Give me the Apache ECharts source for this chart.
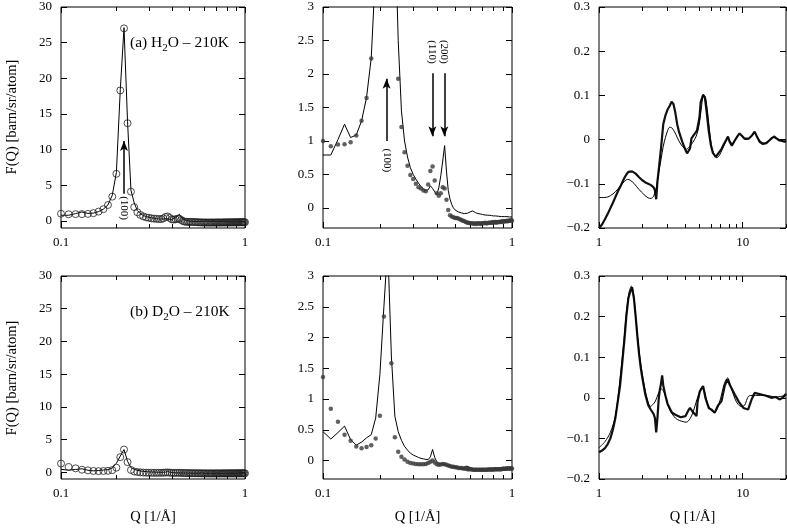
<!DOCTYPE html>
<html><head><meta charset="utf-8">
<script src="https://cdn.jsdelivr.net/npm/echarts@6/dist/echarts.min.js"></script>
<style>html,body{margin:0;padding:0;background:#fff}#c{width:787px;height:529px}</style>
</head><body><div id="c"></div>
<script>
// ---------- data ----------
const qLow = [0.10,0.11,0.12,0.13,0.14,0.15,0.16,0.17,0.18,0.19,
  0.20,0.21,0.22,0.23,0.24,0.25,0.26,0.27,0.28,0.29,
  0.30,0.31,0.32,0.33,0.34,0.35,0.36,0.37,0.38,0.39,
  0.40,0.41,0.42,0.43,0.44,0.45,0.46,0.47,0.48,0.49,
  0.50,0.51,0.52,0.53,0.54,0.55,0.56,0.57,0.58,0.59,
  0.60,0.61,0.62,0.63,0.64,0.65,0.66,0.67,0.68,0.69,
  0.70,0.71,0.72,0.73,0.74,0.75,0.76,0.77,0.78,0.79,
  0.80,0.81,0.82,0.83,0.84,0.85,0.86,0.87,0.88,0.89,
  0.90,0.91,0.92,0.93,0.94,0.95,0.96,0.97,0.98,0.99,1.00];
const h2oData = [1.00,0.92,0.945,0.95,0.98,1.08,1.30,1.64,2.23,3.4,
  6.6,18.3,27.0,13.7,4.1,1.93,1.21,0.83,0.63,0.49,
  0.43,0.36,0.31,0.29,0.26,0.25,0.35,0.55,0.62,0.41,
  0.22,0.18,0.22,0.31,0.29,0.12,-0.03,-0.11,-0.13,-0.14,
  -0.15,-0.15,-0.16,-0.17,-0.18,-0.19,-0.20,-0.21,-0.22,-0.22,
  -0.23,-0.23,-0.23,-0.24,-0.23,-0.24,-0.23,-0.23,-0.24,-0.23,
  -0.23,-0.23,-0.22,-0.23,-0.23,-0.22,-0.22,-0.22,-0.22,-0.21,
  -0.22,-0.21,-0.21,-0.22,-0.21,-0.21,-0.21,-0.21,-0.20,-0.21,
  -0.20,-0.20,-0.20,-0.20,-0.19,-0.20,-0.19,-0.19,-0.19,-0.18,-0.19];
const h2oModel = [0.79,0.79,1.02,1.25,1.05,1.09,1.30,1.65,2.24,3.6,
  6.8,18.4,27.1,13.9,4.3,2.5,1.45,1.0,0.76,0.6,
  0.5,0.43,0.37,0.32,0.28,0.26,0.27,0.33,0.29,0.24,
  0.2,0.3,0.48,0.7,0.93,0.55,0.26,0.13,0.05,0.0,
  -0.03,-0.05,-0.06,-0.07,-0.075,-0.08,-0.085,-0.085,-0.08,-0.07,
  -0.06,-0.05,-0.045,-0.06,-0.07,-0.08,-0.085,-0.09,-0.09,-0.095,
  -0.1,-0.1,-0.105,-0.105,-0.11,-0.11,-0.11,-0.115,-0.115,-0.12,
  -0.12,-0.12,-0.12,-0.125,-0.125,-0.125,-0.125,-0.13,-0.13,-0.13,
  -0.13,-0.13,-0.13,-0.13,-0.13,-0.135,-0.135,-0.135,-0.135,-0.135,-0.135];
const d2oData = [1.36,0.84,0.63,0.42,0.32,0.23,0.20,0.22,0.25,0.36,
  0.73,2.34,3.5,1.58,0.38,0.145,0.06,0.015,-0.02,-0.04,
  -0.05,-0.055,-0.06,-0.06,-0.06,-0.055,-0.04,-0.02,0.0,-0.03,
  -0.06,-0.07,-0.065,-0.055,-0.06,-0.07,-0.08,-0.09,-0.10,-0.10,
  -0.11,-0.11,-0.12,-0.12,-0.12,-0.13,-0.13,-0.13,-0.14,-0.14,
  -0.14,-0.14,-0.15,-0.15,-0.15,-0.15,-0.15,-0.15,-0.15,-0.15,
  -0.15,-0.15,-0.15,-0.15,-0.15,-0.145,-0.145,-0.145,-0.145,-0.145,
  -0.145,-0.14,-0.14,-0.14,-0.14,-0.14,-0.14,-0.14,-0.14,-0.135,
  -0.135,-0.135,-0.135,-0.135,-0.13,-0.13,-0.13,-0.13,-0.13,-0.13,-0.13];
const d2oModel = [0.47,0.35,0.455,0.56,0.34,0.25,0.30,0.37,0.42,0.69,
  1.4,2.5,3.5,1.7,0.72,0.47,0.33,0.23,0.17,0.12,
  0.09,0.07,0.05,0.035,0.026,0.02,0.015,0.06,0.18,0.05,
  -0.02,-0.04,-0.05,-0.06,-0.07,-0.08,-0.085,-0.09,-0.095,-0.10,
  -0.11,-0.115,-0.12,-0.12,-0.125,-0.13,-0.12,-0.09,-0.08,-0.10,
  -0.115,-0.125,-0.13,-0.135,-0.14,-0.14,-0.14,-0.14,-0.14,-0.14,
  -0.14,-0.14,-0.14,-0.14,-0.14,-0.14,-0.14,-0.14,-0.14,-0.14,
  -0.14,-0.14,-0.14,-0.135,-0.135,-0.135,-0.135,-0.135,-0.135,-0.13,
  -0.13,-0.13,-0.13,-0.13,-0.13,-0.13,-0.13,-0.125,-0.125,-0.125,-0.125];

const h2oHiQ = [1.00,1.05,1.10,1.15,1.20,1.25,1.30,1.35,1.40,1.45,1.50,1.55,1.60,1.65,1.70,1.75,1.80,1.90,2.00,2.10,
  2.20,2.30,2.40,2.45,2.50,2.55,2.60,2.70,2.80,2.90,3.00,3.10,3.20,3.25,3.30,3.40,3.50,3.60,3.70,3.80,
  3.90,4.00,4.10,4.20,4.30,4.40,4.60,4.80,5.00,5.10,5.30,5.45,5.60,5.80,6.00,6.20,6.50,6.80,7.10,7.40,
  7.70,7.90,8.10,8.40,8.80,9.20,9.50,9.90,10.3,10.6,11.0,11.5,12.1,12.5,13.1,13.8,14.6,15.3,16.0,16.6,
  17.3,18.0,18.8,19.6,20.0];
const h2oHiS = [-0.200,-0.192,-0.180,-0.168,-0.155,-0.143,-0.130,-0.118,-0.108,-0.097,-0.087,-0.079,-0.073,-0.071,-0.072,-0.074,-0.077,-0.085,-0.092,-0.097,
  -0.100,-0.103,-0.108,-0.115,-0.135,-0.095,-0.070,-0.020,0.035,0.055,0.068,0.076,0.086,0.090,0.080,0.060,0.035,0.018,0.006,-0.005,
  -0.015,-0.024,-0.031,-0.032,-0.020,0.003,0.012,0.020,0.050,0.085,0.101,0.095,0.065,0.020,-0.012,-0.030,-0.039,-0.030,-0.022,-0.010,
  0.000,0.007,-0.005,-0.014,-0.002,0.008,0.014,0.008,0.002,-0.001,0.002,0.008,0.018,0.008,-0.005,-0.010,-0.008,-0.002,0.004,0.007,
  0.002,-0.002,-0.003,-0.005,-0.003];
const h2oHiModelQ = [1.00,1.10,1.20,1.30,1.40,1.50,1.58,1.65,1.75,1.90,2.05,2.20,2.30,2.40,2.50,2.60,2.70,2.80,2.90,3.00,
  3.10,3.20,3.35,3.50,3.70,3.90,4.05,4.25,4.50,4.75,4.95,5.15,5.33,5.50,5.70,5.90,6.10,6.40,6.60,6.90,
  7.20,7.50,7.85,8.20,8.50,8.90,9.30,9.60,10.0,10.5,11.0,11.6,12.1,12.6,13.3,14.2,15.2,16.2,17.2,18.5,20.0];
const h2oHiModelS = [-0.131,-0.131,-0.127,-0.118,-0.106,-0.095,-0.090,-0.092,-0.099,-0.113,-0.124,-0.132,-0.133,-0.128,-0.110,-0.075,-0.045,-0.015,0.005,0.020,
  0.028,0.027,0.018,0.005,-0.010,-0.019,-0.022,-0.016,-0.006,0.008,0.030,0.070,0.102,0.096,0.060,0.015,-0.020,-0.038,-0.041,-0.035,
  -0.022,-0.010,0.004,-0.004,-0.010,0.000,0.009,0.012,0.006,0.000,0.002,0.009,0.015,0.006,-0.004,-0.008,-0.002,0.005,0.002,-0.002,-0.004];
const d2oHiQ = [1.00,1.05,1.10,1.15,1.20,1.25,1.30,1.35,1.40,1.45,1.50,1.55,1.60,1.65,1.70,1.72,1.75,1.80,1.85,1.90,
  1.95,2.00,2.10,2.20,2.30,2.40,2.45,2.50,2.55,2.60,2.65,2.70,2.75,2.80,2.90,3.00,3.20,3.40,3.70,4.00,
  4.20,4.30,4.50,4.77,4.85,5.03,5.30,5.50,5.80,6.06,6.38,6.70,7.12,7.50,7.82,8.10,8.80,9.40,10.1,10.9,
  11.5,12.1,13.5,14.5,15.8,17.0,18.0,19.0,19.8,20.0];
const d2oHiS = [-0.134,-0.130,-0.124,-0.114,-0.100,-0.078,-0.050,-0.010,0.029,0.085,0.140,0.201,0.245,0.262,0.272,0.260,0.245,0.200,0.150,0.108,
  0.075,0.050,0.008,-0.018,-0.030,-0.040,-0.050,-0.085,-0.050,-0.005,0.020,0.035,0.055,0.030,0.005,-0.015,-0.035,-0.042,-0.048,-0.045,
  -0.030,-0.025,-0.035,-0.045,-0.010,0.016,0.029,0.000,-0.025,-0.029,-0.037,-0.020,-0.008,0.030,0.045,0.033,0.008,-0.010,-0.025,-0.029,
  -0.005,0.012,0.008,0.005,0.000,0.002,-0.004,0.000,0.008,0.010];
const d2oHiModelQ = [1.00,1.10,1.20,1.30,1.40,1.50,1.55,1.62,1.68,1.74,1.80,1.92,2.03,2.14,2.28,2.45,2.60,2.71,2.85,3.10,
  3.40,3.64,4.05,4.40,4.70,4.90,5.20,5.40,5.70,6.06,6.40,6.88,7.45,7.85,8.30,8.98,9.70,10.2,11.1,12.3,14.5,17.0,20.0];
const d2oHiModelS = [-0.123,-0.108,-0.085,-0.045,0.045,0.150,0.209,0.260,0.275,0.255,0.200,0.102,0.045,0.004,-0.021,-0.010,0.012,0.022,0.012,-0.029,
  -0.050,-0.056,-0.060,-0.045,-0.015,0.005,0.025,0.018,-0.015,-0.032,-0.035,-0.012,0.035,0.049,0.025,-0.008,-0.021,-0.020,0.005,0.006,0.006,0.002,0.006];

// tick labels
const xTicksLow = [0.1, 1];
const xMinorLow = [0.2,0.3,0.4,0.5,0.6,0.7,0.8,0.9];
const xTicksHigh = [1, 10];
const xMinorHigh = [2,3,4,5,6,7,8,9,20];
const yTicksBig = [0,5,10,15,20,25,30];
const yTicksMid = [0,0.5,1,1.5,2,2.5,3];
const yTicksSmall = [-0.2,-0.1,0,0.1,0.2,0.3];
const panelTitles = ['(a) H', '(b) D'];
const peakLabels = ['(100)', '(110)', '(200)'];
const axisTitleX = 'Q [1/\u00c5]';
const axisTitleY = 'F(Q) [barn/sr/atom]';

// ---------- layout ----------
const FONT = '"Liberation Serif","Times New Roman",serif';
const fmt = v => String(+(+v).toPrecision(6)).replace('-', '\u2212');
const rects = [
  {left:61, top:7, width:184, height:221},
  {left:323, top:7, width:189, height:221},
  {left:599, top:7, width:187, height:221},
  {left:61, top:276, width:184, height:203},
  {left:323, top:276, width:189, height:203},
  {left:599, top:276, width:187, height:203}
];
const panels = [
  {xr:[0.1,1], xt:xTicksLow, xm:xMinorLow, yr:[-1,30], yt:yTicksBig},
  {xr:[0.1,1], xt:xTicksLow, xm:xMinorLow, yr:[-0.3,3], yt:yTicksMid},
  {xr:[1,20], xt:xTicksHigh, xm:xMinorHigh, yr:[-0.2,0.3], yt:yTicksSmall},
  {xr:[0.1,1], xt:xTicksLow, xm:xMinorLow, yr:[-1,30], yt:yTicksBig},
  {xr:[0.1,1], xt:xTicksLow, xm:xMinorLow, yr:[-0.3,3], yt:yTicksMid},
  {xr:[1,20], xt:xTicksHigh, xm:xMinorHigh, yr:[-0.2,0.3], yt:yTicksSmall}
];
const grid = [], xAxis = [], yAxis = [], idx = [];
const tickLine = {color:'#000', width:1};
const labelStyle = {color:'#000', fontFamily:FONT, fontSize:13};
const noLine = {show:false, onZero:false};
panels.forEach((p, i) => {
  const r = rects[i];
  const gA = grid.length;
  grid.push({left:r.left, top:r.top, width:r.width, height:r.height, show:false, containLabel:false});
  const gB = grid.length;
  grid.push({left:r.left, top:r.top, width:r.width, height:r.height, show:true, borderColor:'#000', borderWidth:1, backgroundColor:'transparent', containLabel:false});
  const lx = {type:'log', logBase:10, min:p.xr[0], max:p.xr[1], splitLine:{show:false}, axisLine:noLine};
  xAxis.push(Object.assign({}, lx, {gridIndex:gA, position:'bottom', axisTick:{inside:true, length:4, customValues:p.xm, lineStyle:tickLine}, axisLabel:{show:false}}));
  xAxis.push(Object.assign({}, lx, {gridIndex:gA, position:'top', axisTick:{inside:true, length:4, customValues:p.xm, lineStyle:tickLine}, axisLabel:{show:false}}));
  const xi = xAxis.length;
  xAxis.push(Object.assign({}, lx, {gridIndex:gB, position:'bottom', axisTick:{inside:true, length:6, customValues:p.xt, lineStyle:tickLine},
    axisLabel:Object.assign({customValues:p.xt, formatter:fmt, margin:8}, labelStyle),
    name: i >= 3 ? axisTitleX : '', nameLocation:'middle', nameGap:31, nameTextStyle:{color:'#000', fontFamily:FONT, fontSize:14.5}}));
  xAxis.push(Object.assign({}, lx, {gridIndex:gB, position:'top', axisTick:{inside:true, length:6, customValues:p.xt, lineStyle:tickLine}, axisLabel:{show:false}}));
  yAxis.push({gridIndex:gA, type:'value', min:p.yr[0], max:p.yr[1], show:false, axisLine:noLine});
  const yi = yAxis.length;
  yAxis.push({gridIndex:gB, type:'value', min:p.yr[0], max:p.yr[1], position:'left', splitLine:{show:false}, axisLine:noLine,
    axisTick:{inside:true, length:6, customValues:p.yt, lineStyle:tickLine},
    axisLabel:Object.assign({customValues:p.yt, formatter:fmt, margin:9}, labelStyle)});
  yAxis.push({gridIndex:gB, type:'value', min:p.yr[0], max:p.yr[1], position:'right', splitLine:{show:false}, axisLine:noLine,
    axisTick:{inside:true, length:6, customValues:p.yt, lineStyle:tickLine}, axisLabel:{show:false}});
  idx.push({x:xi, y:yi});
});

const zip = (a, b) => a.map((v, i) => [v, b[i]]);
const arrowLine = (pairs) => ({silent:true, symbol:['none','arrow'], symbolSize:[6,10], animation:false,
  lineStyle:{color:'#000', width:1.5, type:'solid'}, label:{show:false}, emphasis:{disabled:true},
  data: pairs.map(p => [{coord:p[0]}, {coord:p[1]}])});
const modelLine = (i, data, extra) => Object.assign({type:'line', xAxisIndex:idx[i].x, yAxisIndex:idx[i].y, data, showSymbol:false, symbol:'none',
  lineStyle:{color:'#000', width:1}, silent:true, animation:false, z:2}, extra || {});
const openCircles = (i, data) => ({type:'scatter', xAxisIndex:idx[i].x, yAxisIndex:idx[i].y, data, symbol:'circle', symbolSize:7,
  itemStyle:{color:'rgba(0,0,0,0)', borderColor:'#222', borderWidth:1}, silent:true, animation:false, z:3});
const dots = (i, data) => ({type:'scatter', xAxisIndex:idx[i].x, yAxisIndex:idx[i].y, data, symbol:'circle', symbolSize:4.5,
  itemStyle:{color:'#3a3a3a'}, silent:true, animation:false, z:3});

const series = [
  modelLine(0, zip(qLow, h2oModel), {markLine: arrowLine([[[0.22,3.8],[0.22,11.2]]])}),
  openCircles(0, zip(qLow, h2oData)),
  modelLine(1, zip(qLow, h2oModel), {markLine: arrowLine([[[0.217,1.0],[0.217,1.93]], [[0.379,2.01],[0.379,1.07]], [[0.4385,2.01],[0.4385,1.07]]])}),
  dots(1, zip(qLow, h2oData)),
  modelLine(2, zip(h2oHiQ, h2oHiS), {lineStyle:{color:'#111', width:2.2}, z:2}),
  modelLine(2, zip(h2oHiModelQ, h2oHiModelS), {smooth:0.3, z:3}),
  modelLine(3, zip(qLow, d2oModel)),
  openCircles(3, zip(qLow, d2oData)),
  modelLine(4, zip(qLow, d2oModel)),
  dots(4, zip(qLow, d2oData)),
  modelLine(5, zip(d2oHiQ, d2oHiS), {lineStyle:{color:'#111', width:2.2}, z:2}),
  modelLine(5, zip(d2oHiModelQ, d2oHiModelS), {smooth:0.3, z:3})
];

const chart = echarts.init(document.getElementById('c'), null, {renderer:'canvas'});
chart.setOption({animation:false, backgroundColor:'#fff', grid, xAxis, yAxis, series});

// ---------- annotations ----------
const px = (i, pt) => chart.convertToPixel({xAxisIndex:idx[i].x, yAxisIndex:idx[i].y}, pt);
const rotText = (i, pt, text) => {
  const p = px(i, pt);
  return {type:'text', x:p[0], y:p[1], rotation:-Math.PI/2, silent:true,
    style:{text, fill:'#000', fontFamily:FONT, fontSize:11, align:'center', verticalAlign:'middle'}};
};
const richTitle = (x, y, pre) => ({type:'text', x, y, silent:true,
  style:{text:'{a|' + pre + '}{s|2}{a|O \u2013 210K}', align:'left', verticalAlign:'middle',
    rich:{a:{fontFamily:FONT, fontSize:15.5, lineHeight:22, fill:'#000'}, s:{fontFamily:FONT, fontSize:11, lineHeight:13, verticalAlign:'bottom', fill:'#000'}}}});
const yTitle = (y) => ({type:'text', x:12, y, rotation:Math.PI/2, silent:true,
  style:{text:axisTitleY, fill:'#000', fontFamily:FONT, fontSize:14.5, align:'center', verticalAlign:'middle'}});

chart.setOption({graphic:[
  rotText(0, [0.22, 1.8], peakLabels[0]),
  rotText(1, [0.217, 0.71], peakLabels[0]),
  rotText(1, [0.379, 2.33], peakLabels[1]),
  rotText(1, [0.4385, 2.33], peakLabels[2]),
  richTitle(130, 43, panelTitles[0]),
  richTitle(130, 312, panelTitles[1]),
  yTitle(117),
  yTitle(378)
]});
</script>
</body></html>
